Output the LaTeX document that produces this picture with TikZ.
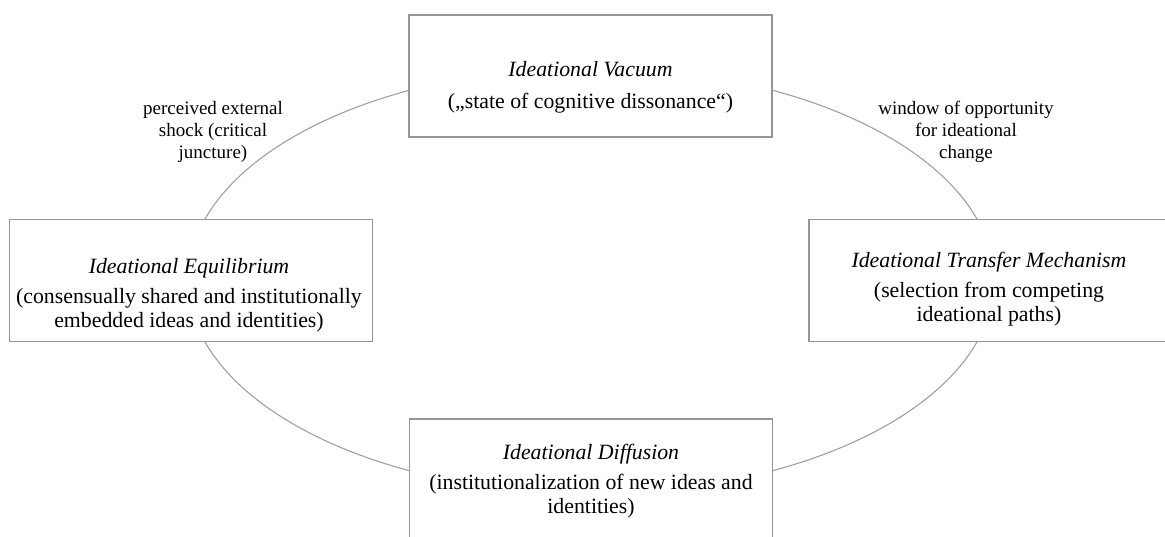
\documentclass[tikz,border=0pt]{standalone}
\usepackage{fontspec}
\setmainfont{Liberation Serif}
\definecolor{boxgray}{RGB}{150,150,150}
\definecolor{ringgray}{RGB}{160,160,160}
\tikzset{
 stagebox/.style={draw=boxgray,line width=0.65pt,fill=white,minimum width=181.5pt,minimum height=61pt,inner sep=0pt},
 stagetext/.style={align=center,inner sep=0pt,font=\fontsize{10.9}{12}\selectfont},
 cyclelabel/.style={align=center,inner sep=0pt,font=\fontsize{9.5}{11}\selectfont}
}
\begin{document}
\begin{tikzpicture}[x=0.5pt,y=-0.5pt]
 \useasboundingbox[fill=white] (0,0) rectangle (1165,536);
 \draw[ringgray,line width=0.55pt] (591,280.5) ellipse [x radius=201.5pt,y radius=106.5pt];
 \node[stagebox] (vacuum) at (590.5,76) {};
 \node[stagebox] (equilibrium) at (191,280.5) {};
 \node[stagebox] (transfer) at (990.5,280.5) {};
 \node[stagebox] (diffusion) at (591,480) {};
 \node[stagetext] (vacuumtext) at (590.5,87) {\textit{Ideational Vacuum}\\[4pt] („state of cognitive dissonance“)};
 \node[stagetext] (equilibriumtext) at (189,295) {\textit{Ideational Equilibrium}\\[3pt] (consensually shared and institutionally\\ embedded ideas and identities)};
 \node[stagetext] (transfertext) at (989,289) {\textit{Ideational Transfer Mechanism}\\[3pt] (selection from competing\\ ideational paths)};
 \node[stagetext] (diffusiontext) at (591,481) {\textit{Ideational Diffusion}\\[3pt] (institutionalization of new ideas and\\ identities)};
 \node[cyclelabel] (shock) at (213,132) {perceived external\\ shock (critical\\ juncture)};
 \node[cyclelabel] (window) at (966,132) {window of opportunity\\ for ideational\\ change};
\end{tikzpicture}
\end{document}
